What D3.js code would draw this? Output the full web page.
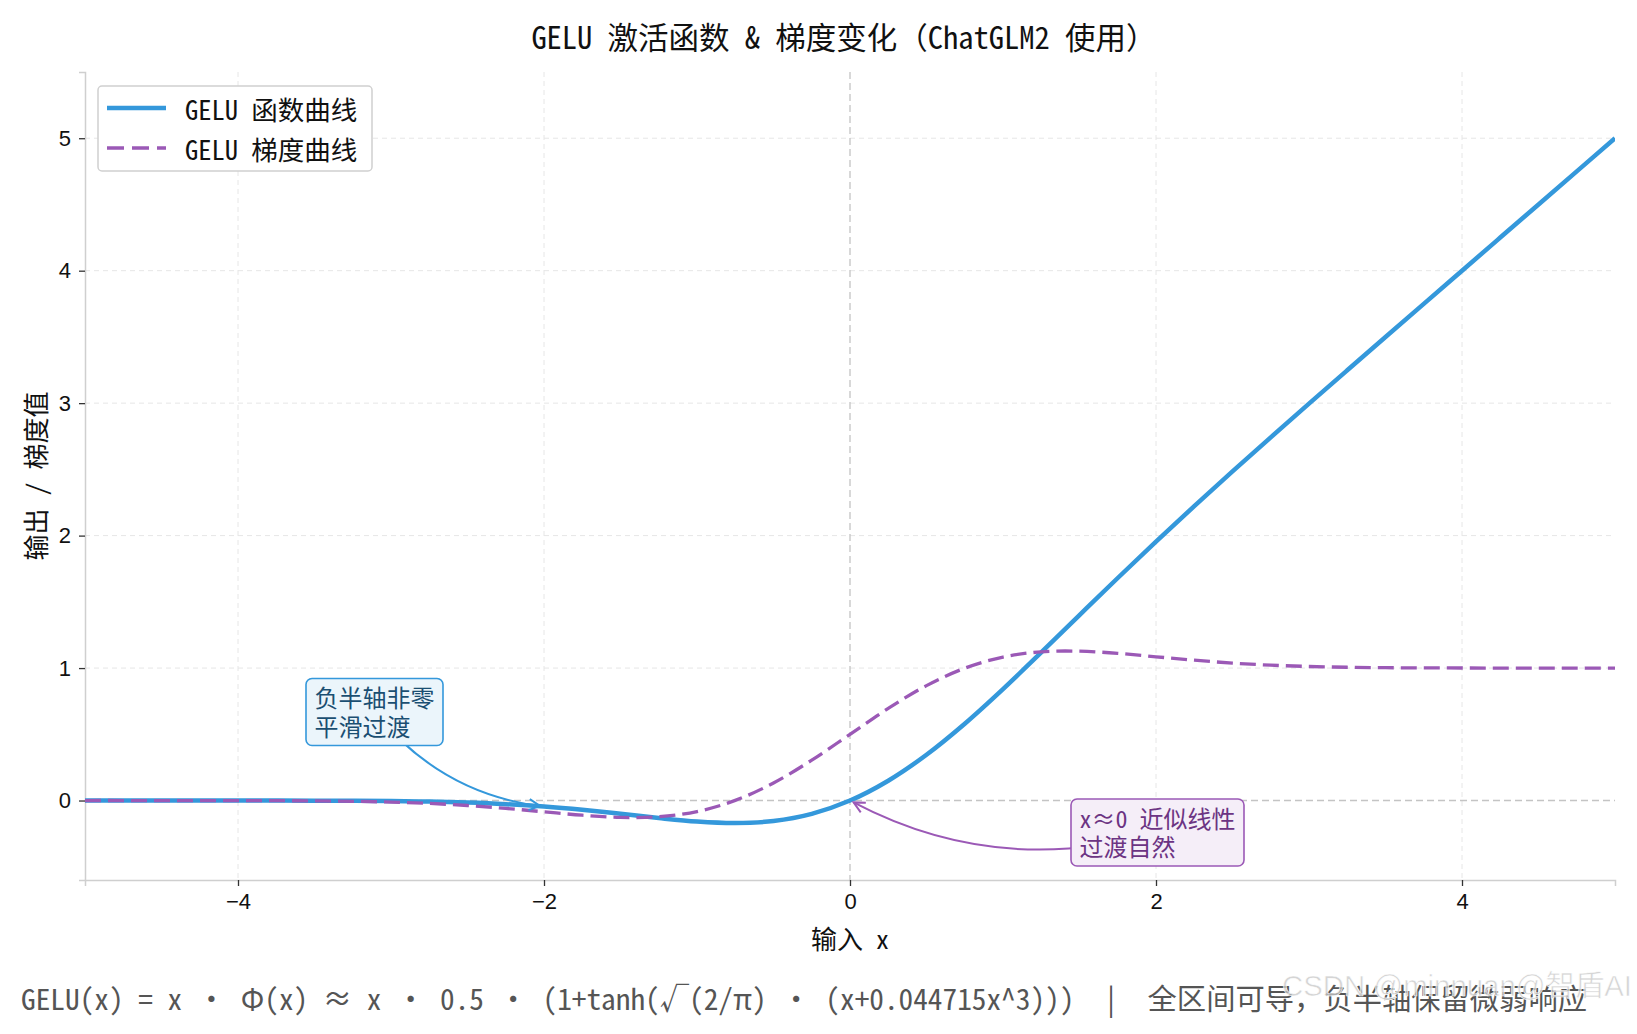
<!DOCTYPE html>
<html lang="zh">
<head>
<meta charset="UTF-8">
<title>GELU 激活函数 & 梯度变化</title>
<script src="https://d3js.org/d3.v7.min.js"></script>
<style>
  body { margin: 0; background: #fff; }
  svg { display: block; font-family: "Noto Sans Mono CJK SC", "Noto Sans CJK SC", sans-serif; }
</style>
</head>
<body>
<svg id="chart" width="1637" height="1034"></svg>
<script>
// values, step 0.25
const xValues = [-5, -4.75, -4.5, -4.25, -4, -3.75, -3.5, -3.25, -3, -2.75, -2.5, -2.25, -2, -1.75, -1.5, -1.25,
  -1, -0.75, -0.5, -0.25, 0, 0.25, 0.5, 0.75, 1, 1.25, 1.5, 1.75, 2, 2.25, 2.5, 2.75, 3, 3.25, 3.5, 3.75,
  4, 4.25, 4.5, 4.75, 5];
const geluValues = [0, 0, 0, 0, -0.0001, -0.0003, -0.0008, -0.0019, -0.004, -0.0082, -0.0155, -0.0275, -0.0455,
  -0.0701, -0.1002, -0.1321, -0.1587, -0.17, -0.1543, -0.1003, 0, 0.1497, 0.3457, 0.58, 0.8413, 1.1179,
  1.3998, 1.6799, 1.9545, 2.2225, 2.4845, 2.7418, 2.996, 3.2481, 3.4992, 3.7497, 3.9999, 4.25, 4.5, 4.75, 5];
const gradValues = [0, 0, -0.0001, -0.0002, -0.0005, -0.0012, -0.0028, -0.006, -0.012, -0.022, -0.0376, -0.0592,
  -0.0852, -0.1109, -0.1275, -0.1227, -0.0833, 0.0008, 0.1325, 0.3046, 0.5, 0.6954, 0.8675, 0.9992, 1.0833,
  1.1227, 1.1275, 1.1109, 1.0852, 1.0592, 1.0376, 1.022, 1.012, 1.006, 1.0028, 1.0012, 1.0005, 1.0002,
  1.0001, 1, 1];

const xTicks = [-4, -2, 0, 2, 4];
const yTicks = [0, 1, 2, 3, 4, 5];
const seriesNames = ["GELU 函数曲线", "GELU 梯度曲线"];

const titleText = "GELU 激活函数 & 梯度变化（ChatGLM2 使用）";
const xLabel = "输入 x";
const yLabel = "输出 / 梯度值";
const footText = "GELU(x) = x · Φ(x) ≈ x · 0.5 · (1+tanh(√(2/π) · (x+0.044715x^3)))  |  全区间可导，负半轴保留微弱响应";

// annotations: text anchor (left, last baseline) and target point, in data units
const notes = [
  { lines: ["负半轴非零", "平滑过渡"], tx: -3.5, ty: 0.49, px: -2, py: -0.0455, rad: 0.2,
    stroke: "#3498db", fill: "#ebf5fb", color: "#1b4f72" },
  { lines: ["x≈0 近似线性", "过渡自然"], tx: 1.5, ty: -0.42, px: 0, py: 0, rad: -0.2,
    stroke: "#9b59b6", fill: "#f5eef8", color: "#6c3483" }
];

const W = 1637, H = 1034;
const margin = { top: 72, right: 22, bottom: 154, left: 85 };
const innerW = W - margin.left - margin.right;
const innerH = H - margin.top - margin.bottom;

const blue = "#3498db", purple = "#9b59b6";

const svg = d3.select("#chart");

const x = d3.scaleLinear().domain([-5, 5]).range([margin.left, margin.left + innerW]);
const y = d3.scaleLinear().domain([-0.6, 5.5]).range([margin.top + innerH, margin.top]);

svg.append("defs").append("clipPath").attr("id", "plotClip")
  .append("rect")
  .attr("x", margin.left).attr("y", margin.top)
  .attr("width", innerW).attr("height", innerH);

// grid
const grid = svg.append("g");
grid.selectAll(".gx").data(xTicks.filter(d => d !== 0)).enter().append("line")
  .attr("x1", d => x(d)).attr("x2", d => x(d))
  .attr("y1", margin.top).attr("y2", margin.top + innerH)
  .attr("stroke", "#e6e6e6").attr("stroke-width", 1).attr("stroke-dasharray", "5,4");
grid.selectAll(".gy").data(yTicks.filter(d => d !== 0)).enter().append("line")
  .attr("x1", margin.left).attr("x2", margin.left + innerW)
  .attr("y1", d => y(d)).attr("y2", d => y(d))
  .attr("stroke", "#e6e6e6").attr("stroke-width", 1).attr("stroke-dasharray", "5,4");

// zero reference lines
grid.append("line")
  .attr("x1", margin.left).attr("x2", margin.left + innerW)
  .attr("y1", y(0)).attr("y2", y(0))
  .attr("stroke", "#c4c4c4").attr("stroke-width", 1.3).attr("stroke-dasharray", "7,4");
grid.append("line")
  .attr("x1", x(0)).attr("x2", x(0))
  .attr("y1", margin.top).attr("y2", margin.top + innerH)
  .attr("stroke", "#c4c4c4").attr("stroke-width", 1.3).attr("stroke-dasharray", "7,4");

// axes
const xAxis = svg.append("g")
  .attr("transform", `translate(0,${margin.top + innerH})`)
  .call(d3.axisBottom(x).tickValues(xTicks).tickFormat(d3.format("d")).tickSize(6).tickPadding(7));
const yAxis = svg.append("g")
  .attr("transform", `translate(${margin.left},0)`)
  .call(d3.axisLeft(y).tickValues(yTicks).tickFormat(d3.format("d")).tickSize(6).tickPadding(8));
[xAxis, yAxis].forEach(g => {
  g.select(".domain").attr("stroke", "#cfcfcf").attr("stroke-width", 1.5);
  g.selectAll(".tick line").attr("stroke", "#333").attr("stroke-width", 1.3);
  g.selectAll(".tick text").attr("fill", "#111").style("font-size", "22px")
    .style("font-family", "inherit");
});

// curves
const pts = (ys) => xValues.map((v, i) => [v, ys[i]]);
const line = d3.line().x(d => x(d[0])).y(d => y(d[1])).curve(d3.curveCatmullRom);
const plot = svg.append("g").attr("clip-path", "url(#plotClip)");
plot.append("path").datum(pts(geluValues))
  .attr("d", line).attr("fill", "none")
  .attr("stroke", blue).attr("stroke-width", 4.5);
plot.append("path").datum(pts(gradValues))
  .attr("d", line).attr("fill", "none")
  .attr("stroke", purple).attr("stroke-width", 3.3).attr("stroke-dasharray", "16,7");

// legend
const legend = svg.append("g");
legend.append("rect")
  .attr("x", 98).attr("y", 86).attr("width", 274).attr("height", 85)
  .attr("rx", 4).attr("fill", "#fff").attr("stroke", "#d0d0d0").attr("stroke-width", 1.5);
const legendStyles = [
  { color: blue, width: 4.5, dash: null },
  { color: purple, width: 3.3, dash: "17,8" }
];
seriesNames.forEach((name, i) => {
  const cy = 108 + i * 40;
  legend.append("line")
    .attr("x1", 107).attr("x2", 166).attr("y1", cy).attr("y2", cy)
    .attr("stroke", legendStyles[i].color).attr("stroke-width", legendStyles[i].width)
    .attr("stroke-dasharray", legendStyles[i].dash);
  legend.append("text")
    .attr("x", 185).attr("y", cy).attr("dominant-baseline", "central")
    .style("font-size", "26.5px").attr("fill", "#111").text(name);
});

// annotations
notes.forEach(n => {
  const g = svg.append("g");
  const fs = 24, lh = 28.5;
  const lx = x(n.tx), lastBase = y(n.ty);
  const firstBase = lastBase - lh * (n.lines.length - 1);
  const txt = g.append("text").style("font-size", fs + "px").attr("fill", n.color);
  n.lines.forEach((s, i) => {
    txt.append("tspan").attr("x", lx).attr("y", firstBase + i * lh).text(s);
  });
  const maxW = d3.max(txt.selectAll("tspan").nodes(), t => t.getComputedTextLength());
  const bx0 = lx - 8.5, bx1 = lx + maxW + 8.5;
  const by0 = firstBase - 0.88 * fs - 7.5, by1 = lastBase + 0.12 * fs + 7;
  const sx = (bx0 + bx1) / 2, sy = (by0 + by1) / 2;
  const ex = x(n.px), ey = y(n.py);
  const dx = ex - sx, dy = ey - sy;
  const cx = (sx + ex) / 2 - n.rad * dy, cy = (sy + ey) / 2 + n.rad * dx;
  // shrink end a little along the tangent
  const tdx = ex - cx, tdy = ey - cy, tl = Math.hypot(tdx, tdy);
  const ux = tdx / tl, uy = tdy / tl;
  const tipX = ex - ux * 4, tipY = ey - uy * 4;
  const arrow = g.insert("g", "text");
  arrow.append("path")
    .attr("d", `M${sx},${sy} Q${cx},${cy} ${tipX},${tipY}`)
    .attr("fill", "none").attr("stroke", n.stroke).attr("stroke-width", 2);
  const hl = 11, hw = 5.5;
  const bxh = tipX - ux * hl, byh = tipY - uy * hl;
  arrow.append("path")
    .attr("d", `M${bxh - uy * hw},${byh + ux * hw} L${tipX},${tipY} L${bxh + uy * hw},${byh - ux * hw}`)
    .attr("fill", "none").attr("stroke", n.stroke).attr("stroke-width", 2);
  g.insert("rect", "text")
    .attr("x", bx0).attr("y", by0).attr("width", bx1 - bx0).attr("height", by1 - by0)
    .attr("rx", 6).attr("fill", n.fill).attr("stroke", n.stroke).attr("stroke-width", 1.6);
});

// titles
svg.append("text")
  .attr("x", x(0) - 6).attr("y", 36).attr("text-anchor", "middle").attr("dominant-baseline", "central")
  .style("font-size", "30.5px").attr("fill", "#111").text(titleText);
svg.append("text")
  .attr("x", x(0)).attr("y", 937).attr("text-anchor", "middle").attr("dominant-baseline", "central")
  .style("font-size", "26px").attr("fill", "#111").text(xLabel);
svg.append("text")
  .attr("transform", `translate(34,${margin.top + innerH / 2}) rotate(-90)`)
  .attr("text-anchor", "middle").attr("dominant-baseline", "central")
  .style("font-size", "26px").attr("fill", "#111").text(yLabel);

svg.append("text")
  .attr("x", 21).attr("y", 997).attr("dominant-baseline", "central")
  .style("white-space", "pre")
  .attr("textLength", 1566).attr("lengthAdjust", "spacingAndGlyphs")
  .style("font-size", "29px").attr("fill", "#555").text(footText);

// watermark
svg.append("text")
  .attr("x", 1282).attr("y", 996)
  .style("font-family", "'Liberation Sans', Arial, 'Noto Sans CJK SC', sans-serif")
  .style("font-size", "29px").attr("fill", "#c8c8c8").attr("fill-opacity", 0.75)
  .attr("stroke", "#fff").attr("stroke-width", 0.6)
  .attr("textLength", 350).attr("lengthAdjust", "spacingAndGlyphs")
  .text("CSDN @minnuan@智盾AI");
</script>
</body>
</html>
